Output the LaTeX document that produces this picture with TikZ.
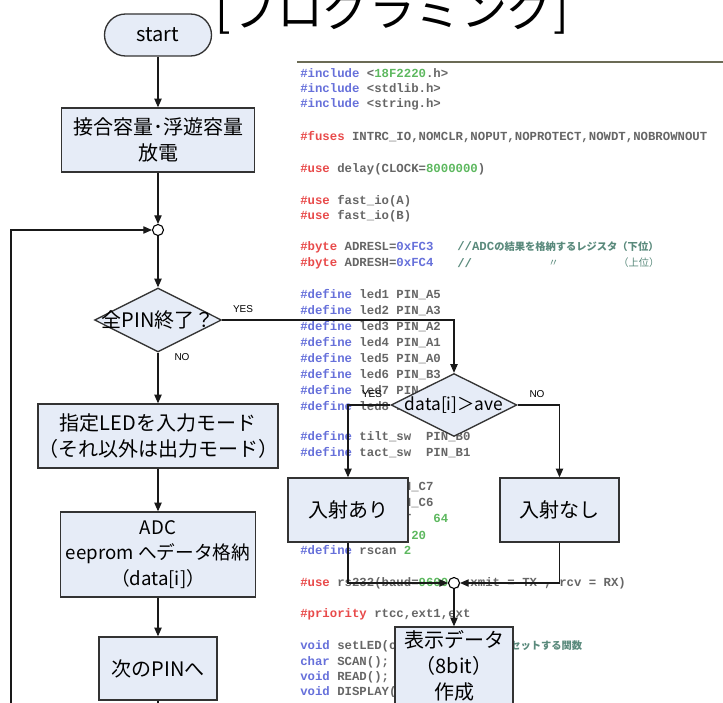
\documentclass[tikz,border=0pt]{standalone}
\usepackage{fontspec}
\setmainfont{Noto Sans CJK JP}
\newfontfamily\jpf{Noto Sans CJK JP}
\newfontfamily\latf{Liberation Sans}
\newfontfamily\codef{Liberation Mono}
\usetikzlibrary{arrows.meta,shapes.geometric}
\definecolor{boxfill}{HTML}{E6ECF7}
\definecolor{boxline}{HTML}{333333}
\definecolor{cblue}{HTML}{6670DA}
\definecolor{cred}{HTML}{E84A4A}
\definecolor{cgreen}{HTML}{5DB85F}
\definecolor{ctxt}{HTML}{666666}
\definecolor{ccom}{HTML}{5A8A7C}
\definecolor{crule}{HTML}{6B6B55}
\newcommand\kwB[1]{\textcolor{cblue}{#1}}
\newcommand\kwR[1]{\textcolor{cred}{#1}}
\newcommand\kwN[1]{\textcolor{cgreen}{#1}}
\newcommand\kwC[1]{\textcolor{ccom}{#1}}
\newcommand\csp[1]{\hspace*{#1\dimexpr0.6em\relax}}
\newcommand\jpc{\jpf\fontsize{7.7}{9}\selectfont}
\begin{document}
\begin{tikzpicture}[x=0.75pt,y=-0.75pt,
  box/.style={draw=boxline,line width=1pt,fill=boxfill,align=center,inner sep=0pt,
    font=\jpf\fontsize{15}{19.5}\selectfont},
  dia/.style={diamond,draw=boxline,line width=1pt,fill=boxfill,inner sep=0pt},
  junc/.style={circle,draw=black,line width=0.8pt,fill=white,minimum size=8.25pt,inner sep=0pt},
  arr/.style={draw=black!90,line width=0.8pt,-{Triangle[length=6.5pt,width=5.5pt]}},
  lbl/.style={font=\latf\fontsize{7.5}{9}\selectfont,inner sep=0pt},
  codeline/.style={anchor=west,inner sep=0pt,text=ctxt,font=\codef\bfseries\fontsize{9.25}{11}\selectfont},
  cjkc/.style={anchor=west,inner sep=0pt,text=ccom,font=\jpc}]
\useasboundingbox (0,0) rectangle (723,702);

% ---- code listing in the background ----
\begin{scope}
\clip (290,50) rectangle (723,696);
\draw[crule,line width=1.5pt] (297,62) -- (723,62);
\node[codeline] (l1) at (300,73) {\kwB{\#include} <\kwN{18F2220}.h>};
\node[codeline] (l2) at (300,88) {\kwB{\#include} <stdlib.h>};
\node[codeline] (l3) at (300,104) {\kwB{\#include} <string.h>};
\node[codeline] (l4) at (300,137) {\kwR{\#fuses} INTRC\_IO,NOMCLR,NOPUT,NOPROTECT,NOWDT,NOBROWNOUT};
\node[codeline] (l5) at (300,169) {\kwR{\#use} delay(CLOCK=\kwN{8000000})};
\node[codeline] (l6) at (300,201) {\kwR{\#use} fast\_io(A)};
\node[codeline] (l7) at (300,216) {\kwR{\#use} fast\_io(B)};
\node[codeline] (l8) at (300,247) {\kwR{\#byte} ADRESL=\kwB{0xFC3}};
\node[codeline,text=ccom] (l8c) at (457,247) {//ADC{\jpc の結果を格納するレジスタ（下位）}};
\node[codeline] (l9) at (300,263) {\kwR{\#byte} ADRESH=\kwB{0xFC4}};
\node[codeline,text=ccom] (l9c) at (457,263) {//};
\node[cjkc] (l9d) at (548,263) {〃};
\node[cjkc] (l9e) at (618,263) {（上位）};
\node[codeline] (l10) at (300,295) {\kwB{\#define} led1 PIN\_A5};
\node[codeline] (l11) at (300,311) {\kwB{\#define} led2 PIN\_A3};
\node[codeline] (l12) at (300,327) {\kwB{\#define} led3 PIN\_A2};
\node[codeline] (l13) at (300,343) {\kwB{\#define} led4 PIN\_A1};
\node[codeline] (l14) at (300,359) {\kwB{\#define} led5 PIN\_A0};
\node[codeline] (l15) at (300,375) {\kwB{\#define} led6 PIN\_B3};
\node[codeline] (l16) at (300,391) {\kwB{\#define} led7 PIN\_B4};
\node[codeline] (l17) at (300,407) {\kwB{\#define} led8 PIN\_B5};
\node[codeline] (l18) at (300,437) {\kwB{\#define} tilt\_sw\csp{2}PIN\_B0};
\node[codeline] (l19) at (300,453) {\kwB{\#define} tact\_sw\csp{2}PIN\_B1};
\node[codeline] (l20) at (300,487) {\kwB{\#define} TX\csp{2}PIN\_C7};
\node[codeline] (l21) at (300,503) {\kwB{\#define} RX\csp{2}PIN\_C6};
\node[codeline] (l22) at (300,519) {\kwB{\#define} MAX\_CNT\csp{3}\kwN{64}};
\node[codeline] (l23) at (300,535) {\kwB{\#define} THRESH \kwN{20}};
\node[codeline] (l24) at (300,550) {\kwB{\#define} rscan \kwN{2}};
\node[codeline] (l25) at (300,583) {\kwR{\#use} rs232(baud=\kwN{9600} , xmit = TX , rcv = RX)};
\node[codeline] (l26) at (300,614) {\kwR{\#priority} rtcc,ext1,ext};
\node[codeline] (l27) at (300,646) {\kwB{void} setLED(char);\csp{4}\kwC{//LED{\jpc をセットする関数}}};
\node[codeline] (l28) at (300,662) {\kwB{char} SCAN();};
\node[codeline] (l29) at (300,677) {\kwB{void} READ();};
\node[codeline] (l30) at (300,692) {\kwB{void} DISPLAY();};
\end{scope}

% ---- title ----
\node[anchor=base,inner sep=0pt,font=\jpf\fontsize{34.5}{40}\selectfont] (title) at (392,27) {[プログラミング]};

% ---- left column ----
\node[box,rounded corners=15.75pt,minimum width=80.25pt,minimum height=31.5pt] (start) at (158,35) {start};
\node[box,minimum width=144.75pt,minimum height=48pt] (b1) at (158,140) {接合容量･浮遊容量\\放電};
\node[junc] (j1) at (158,230) {};
\node[dia,minimum width=95.25pt,minimum height=48pt] (d1) at (158,320) {};
\node[inner sep=0pt,font=\jpf\fontsize{15}{18}\selectfont] (d1t) at (d1.center) {全PIN終了？};
\node[box,minimum width=177.75pt,minimum height=48pt] (b2) at (158,436) {指定LEDを入力モード\\（それ以外は出力モード）};
\node[box,minimum width=146.25pt,minimum height=63.75pt,font=\jpf\fontsize{14}{19}\selectfont] (b3) at (158,554.5) {ADC\\eeprom へデータ格納\\（data[i]）};
\node[box,minimum width=88.5pt,minimum height=47.25pt] (b4) at (158,668.5) {次のPINへ};
\node[lbl] (yes1) at (243,309) {YES};
\node[lbl] (no1) at (182,357) {NO};

% ---- right column ----
\node[dia,minimum width=94.5pt,minimum height=47.25pt] (d2) at (454,405) {};
\node[inner sep=0pt,font=\jpf\fontsize{13}{16}\selectfont] (d2t) at (d2.center) {data[i]＞ave};
\node[lbl] (yes2) at (372,394) {YES};
\node[lbl] (no2) at (537,394) {NO};
\node[box,minimum width=90pt,minimum height=48pt] (ari) at (348,510) {入射あり};
\node[box,minimum width=89.25pt,minimum height=48pt] (nashi) at (559.5,510) {入射なし};
\node[junc] (j2) at (454,583) {};
\node[box,minimum width=88.5pt,minimum height=58.5pt] (disp) at (454,666) {表示データ\\（8bit）\\作成};

% ---- connectors ----
\coordinate (lb) at (11,760);
\draw[arr] (start) -- (b1);
\draw[arr] (b1) -- (j1);
\draw[arr] (j1) -- (d1.north);
\draw[arr] (d1.south) -- (b2);
\draw[arr] (b2) -- (b3);
\draw[arr] (b3) -- (b4);
\draw[arr] (b4.south) |- (lb) |- (j1.west);
\draw[arr] (d1.east) -| (d2.north);
\draw[arr] (d2.west) -| (ari.north);
\draw[arr] (d2.east) -| (nashi.north);
\draw[arr] (ari.south) |- (j2.west);
\draw[arr] (nashi.south) |- (j2.east);
\draw[arr] (j2) -- (disp.north);
\end{tikzpicture}
\end{document}
